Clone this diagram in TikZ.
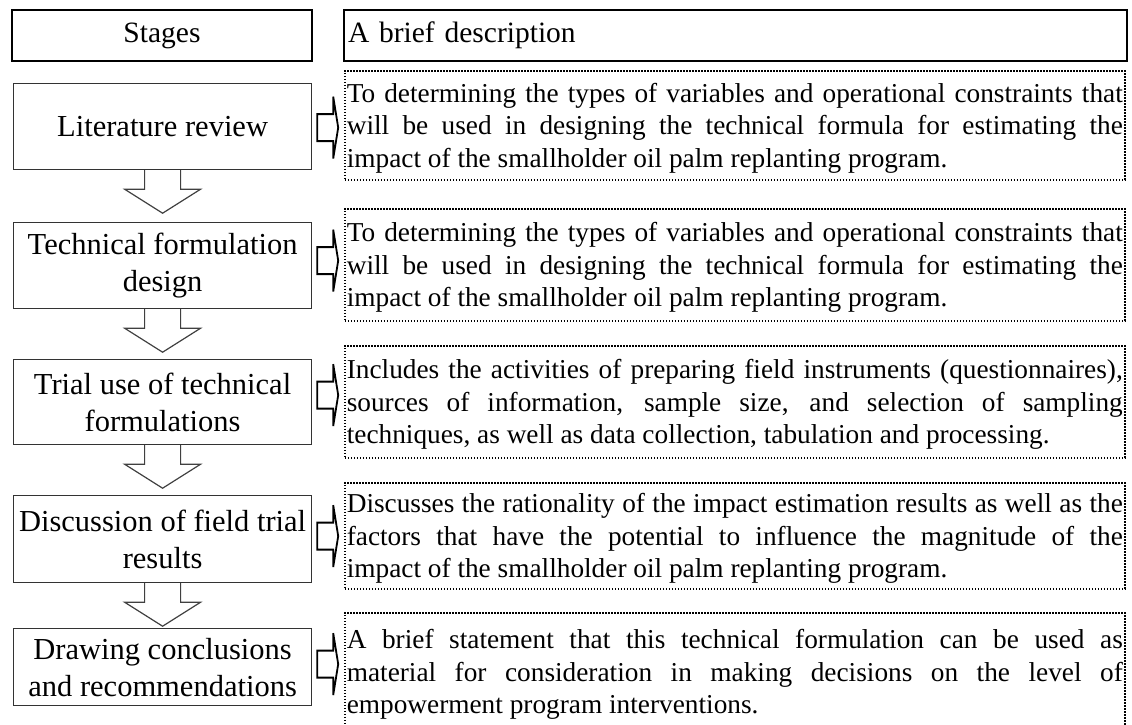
\documentclass[tikz,border=0pt]{standalone}
\usepackage{fontspec}
\setmainfont{Liberation Serif}
\usetikzlibrary{calc}

\tikzset{every picture/.style={line width=0.75pt}}
\tikzset{
  headbox/.style={draw, line width=2pt, minimum height=51, anchor=north west, inner sep=0pt, font=\fontsize{29.5}{33}\selectfont},
  stagebox/.style={draw=black!80, line width=1.2pt, minimum width=298, anchor=north west, align=center, inner sep=0pt, font=\fontsize{30.5}{37}\selectfont},
  descbox/.style={draw, line width=1.6pt, dash pattern=on 1.6pt off 1.4pt, anchor=north west, text width=776, inner xsep=2pt, inner ysep=0pt, align=justify, font=\fontsize{27.3}{32.5}\selectfont, execute at end node={\par\vspace*{-6pt}}},
  pics/downarrow/.style={code={\draw[draw=black!75, line width=1.2pt] (-18,0) -- (-18,-19) -- (-38,-19) -- (0,-43) -- (38,-19) -- (18,-19) -- (18,0);}},
  pics/rightarrow/.style={code={\draw[line width=1.8pt] (0,-13.5) -- (16,-13.5) -- (16,-31) -- (21,0) -- (16,31) -- (16,13.5) -- (0,13.5) -- cycle;}}
}

\begin{document}
\begin{tikzpicture}[x=1pt,y=1pt,yscale=-1,xscale=1]
    \useasboundingbox (0,0) rectangle (1132,724);

    %Header boxes
    \node[headbox, minimum width=300] (stg) at (11,9) {Stages};
    \node[headbox, text width=775, inner xsep=4pt, align=left] (brief) at (343,9) {A brief description};

    %Stages
    \node[stagebox, minimum height=86] (lit) at (13,83) {Literature review};
    \node[stagebox, minimum height=86] (tech) at (13,222) {Technical formulation\\design};
    \node[stagebox, minimum height=85] (trial) at (13,359) {Trial use of technical\\formulations};
    \node[stagebox, minimum height=87] (disc) at (13,495) {Discussion of field trial\\results};
    \node[stagebox, minimum height=77] (concl) at (13,628) {Drawing conclusions\\and recommendations};

    %Descriptions
    \node[descbox, minimum height=109] (dlit) at (344,70) {To determining the types of variables and operational constraints that\linebreak will be used in designing the technical formula for estimating the\linebreak impact of the smallholder oil palm replanting program.};
    \node[descbox, minimum height=112] (dtech) at (344,208) {To determining the types of variables and operational constraints that\linebreak will be used in designing the technical formula for estimating the\linebreak impact of the smallholder oil palm replanting program.};
    \node[descbox, minimum height=112] (dtrial) at (344,345) {Includes the activities of preparing field instruments (questionnaires),\linebreak sources of information, sample size, and selection of sampling\linebreak techniques, as well as data collection, tabulation and processing.};
    \node[descbox, minimum height=106] (ddisc) at (344,482) {Discusses the rationality of the impact estimation results as well as the\linebreak factors that have the potential to influence the magnitude of the\linebreak impact of the smallholder oil palm replanting program.};
    \node[descbox, minimum height=118] (dconcl) at (344,612) {A brief statement that this technical formulation can be used as\linebreak material for consideration in making decisions on the level of\linebreak empowerment program interventions.};

    %Down arrows
    \pic at (lit.south) {downarrow};
    \pic at (tech.south) {downarrow};
    \pic at (trial.south) {downarrow};
    \pic at (disc.south) {downarrow};

    %Right arrows
    \pic at ($(lit.east)+(5,1)$) {rightarrow};
    \pic at ($(tech.east)+(5,-5)$) {rightarrow};
    \pic at ($(trial.east)+(5,-7)$) {rightarrow};
    \pic at ($(disc.east)+(5,-3)$) {rightarrow};
    \pic at ($(concl.east)+(5,-3)$) {rightarrow};

\end{tikzpicture}
\end{document}
